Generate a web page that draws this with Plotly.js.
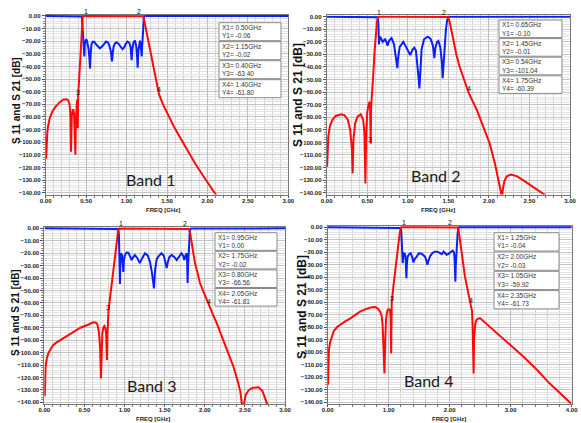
<!DOCTYPE html>
<html><head><meta charset="utf-8">
<script src="https://cdn.plot.ly/plotly-3.0.1.min.js"></script>
<style>html,body{margin:0;padding:0;background:#fff}#c{width:581px;height:423px}</style>
</head><body><div id="c"></div>
<script>
// ---------------- DATA ----------------
const bandNames = ["Band 1", "Band 2", "Band 3", "Band 4"];

// Band 1
const b1_s21_f = [0.005,0.01,0.02,0.03,0.05,0.08,0.12,0.17,0.22,0.26,0.28,0.295,0.305,0.313,0.322,0.335,0.342,0.350,0.360,0.367,0.374,0.381,0.388,0.393,0.397,0.401,0.405,0.415,0.425,0.435,0.445,0.452,0.458,0.5,0.7,0.9,1.1,1.15,1.2,1.21,1.22,1.235,1.25,1.30,1.35,1.40,1.45,1.50,1.58,1.66,1.75,1.85,1.95,2.05,2.12];
const b1_s21_db = [-113,-100,-92,-87,-81,-76,-72,-68.5,-66.2,-66,-67,-70,-78,-107.5,-80,-74.5,-74.5,-77,-90,-110,-82,-70,-66.5,-72,-89,-64,-59,-49,-36,-22,-9,-2,-0.2,-0.05,-0.04,-0.05,-0.03,-0.02,-0.2,-0.8,-4,-11,-16,-31,-47,-61.8,-70,-77,-87,-96,-106,-117,-127,-137,-143];
const b1_s11_f = [0.005,0.44,0.447,0.452,0.458,0.465,0.472,0.478,0.484,0.492,0.50,0.51,0.52,0.53,0.54,0.548,0.556,0.565,0.58,0.60,0.63,0.67,0.70,0.73,0.745,0.77,0.79,0.805,0.815,0.82,0.826,0.84,0.86,0.878,0.90,0.93,0.95,0.97,0.99,1.013,1.035,1.05,1.058,1.063,1.07,1.085,1.104,1.12,1.13,1.137,1.145,1.155,1.166,1.175,1.182,1.187,1.193,1.2,1.207,1.215,1.25,1.5,2.0,2.5,3.0];
const b1_s11_db = [-0.02,-0.05,-0.5,-5,-13,-18,-22,-32,-22,-19,-18.5,-19.5,-22,-26,-33,-41.5,-30,-23,-20.5,-20.5,-23,-25.6,-24,-21,-20.3,-21,-24,-28,-33,-36,-31,-24,-21.5,-21,-22,-25,-26.4,-25,-22,-20.3,-21.5,-25,-30,-35,-27,-21,-19.5,-24,-32,-41,-28,-21,-19.5,-23,-28,-32,-24,-12,-3,-0.3,-0.03,-0.02,-0.02,-0.02,-0.02];
const b1_markX = [0.50, 1.15, 0.40, 1.40];
const b1_markY = [-0.06, -0.02, -63.40, -61.80];

// Band 2
const b2_s21_f = [0.005,0.01,0.02,0.04,0.07,0.11,0.15,0.18,0.22,0.26,0.29,0.31,0.32,0.33,0.35,0.38,0.42,0.45,0.465,0.477,0.487,0.50,0.515,0.526,0.534,0.539,0.543,0.548,0.56,0.575,0.59,0.605,0.62,0.63,0.64,0.8,1.0,1.2,1.4,1.49,1.50,1.52,1.56,1.60,1.64,1.685,1.75,1.85,1.93,2.01,2.075,2.12,2.15,2.16,2.17,2.19,2.22,2.27,2.35,2.42,2.50,2.59,2.66,2.72];
const b2_s21_db = [-119.3,-105,-95,-87,-82,-79,-78,-77.7,-78.5,-82,-90,-105,-124.6,-98,-85,-79.5,-77.7,-82,-92,-132.6,-95,-76,-70,-68.4,-69,-78,-101,-72,-62,-45,-28,-14,-4,-0.5,-0.05,-0.05,-0.08,-0.05,-0.03,-0.05,-0.3,-5.3,-18.6,-30.5,-40,-48,-60.4,-74,-87.5,-101,-117,-130,-140,-150,-138,-131,-127,-125.5,-127,-130,-133.5,-137,-140,-143];
const b2_s11_f = [0.005,0.62,0.63,0.637,0.641,0.645,0.652,0.66,0.675,0.69,0.705,0.72,0.735,0.75,0.77,0.80,0.83,0.85,0.862,0.871,0.88,0.90,0.945,0.99,1.03,1.06,1.08,1.10,1.12,1.135,1.143,1.152,1.17,1.20,1.245,1.28,1.31,1.327,1.34,1.36,1.377,1.40,1.42,1.43,1.44,1.455,1.47,1.485,1.50,1.52,1.6,2.0,2.5,3.0];
const b2_s11_db = [-0.02,-0.05,-0.5,-5,-12,-22,-17,-16,-18,-20,-19,-18,-20,-23,-19,-17,-22,-30,-36,-41,-33,-24,-20,-25,-30.5,-26,-24.7,-27,-38,-50,-57,-42,-26,-18,-16,-17.5,-23,-33,-25,-20,-19.4,-24,-36,-49,-38,-20,-10,-3,-0.3,-0.03,-0.02,-0.02,-0.02,-0.02];
const b2_markX = [0.65, 1.45, 0.54, 1.75];
const b2_markY = [-0.10, -0.01, -101.04, -60.39];

// Band 3
const b3_s21_f = [0.005,0.017,0.03,0.05,0.08,0.11,0.15,0.2,0.28,0.36,0.45,0.53,0.58,0.61,0.64,0.66,0.68,0.695,0.706,0.715,0.723,0.735,0.748,0.76,0.77,0.776,0.781,0.787,0.793,0.80,0.818,0.84,0.86,0.88,0.90,0.912,0.922,0.935,1.1,1.3,1.5,1.7,1.79,1.80,1.815,1.836,1.857,1.878,1.91,1.94,2.0,2.05,2.10,2.15,2.20,2.25,2.30,2.356,2.418,2.445,2.46,2.475,2.49,2.51,2.55,2.60,2.67,2.72,2.77,2.80];
const b3_s21_db = [-135,-111,-105,-100.6,-97,-94,-92,-90,-86.5,-83,-80,-78,-76.5,-75.6,-75.8,-77,-83,-95,-120.7,-92,-84.5,-80,-78.6,-80,-84,-95,-106,-85,-74,-66.56,-56.5,-44,-32.5,-21,-10.5,-5,-1.3,-0.05,-0.05,-0.03,-0.05,-0.05,-0.1,-0.5,-2.7,-12,-20,-28,-36,-44,-53.6,-61.81,-69,-76.4,-84.5,-92.5,-101,-111,-124.7,-132,-140,-150,-141,-134,-130,-128.3,-127.9,-131,-140,-146];
const b3_s11_f = [0.005,0.91,0.922,0.93,0.935,0.94,0.943,0.947,0.955,0.962,0.97,0.978,0.985,0.992,1.005,1.025,1.047,1.065,1.088,1.11,1.13,1.16,1.19,1.22,1.255,1.29,1.317,1.34,1.355,1.367,1.38,1.40,1.42,1.46,1.49,1.51,1.525,1.54,1.56,1.587,1.62,1.65,1.68,1.71,1.73,1.745,1.76,1.774,1.78,1.786,1.792,1.80,1.815,1.83,1.9,2.5,3.0];
const b3_s11_db = [-0.02,-0.05,-0.5,-5,-14.7,-30,-44.8,-30,-20,-21,-21.5,-27,-35,-26,-21.5,-19.5,-19.6,-22,-25.5,-23,-21.5,-24,-28,-24,-20,-22,-27,-35,-43,-48.3,-34,-25,-22.8,-20,-22,-27,-32,-27,-23,-21.5,-23,-25.5,-23,-20,-22,-25.5,-22,-20,-26,-44,-30,-15,-1.3,-0.05,-0.02,-0.02,-0.02];
const b3_markX = [0.95, 1.75, 0.80, 2.05];
const b3_markY = [0.00, -0.02, -66.56, -61.81];

// Band 4
const b4_s21_f = [0.005,0.02,0.04,0.066,0.1,0.15,0.2,0.28,0.366,0.45,0.53,0.62,0.72,0.776,0.82,0.86,0.885,0.9,0.915,0.93,0.945,0.956,0.975,0.995,1.02,1.032,1.040,1.046,1.05,1.08,1.1,1.13,1.16,1.18,1.197,1.21,1.5,1.8,2.1,2.13,2.145,2.16,2.18,2.2,2.225,2.25,2.3,2.35,2.365,2.375,2.385,2.392,2.40,2.42,2.44,2.47,2.5,2.6,2.8,2.99,3.21,3.43,3.64,3.86,3.99];
const b4_s21_db = [-126,-98,-92,-87.5,-83,-80,-78,-75.5,-73,-70,-67.5,-65.5,-64,-63.8,-65,-67.5,-71,-78,-95,-117,-88,-74,-67,-65.6,-66,-72,-101,-68,-59.92,-46,-37,-24,-12.8,-5,-0.8,-0.05,-0.05,-0.04,-0.03,-0.1,-2,-7.5,-15,-23.5,-31,-39.5,-51.5,-61.73,-67,-78,-100,-117,-88,-77,-74,-73,-72.8,-77,-86,-94,-103.5,-114,-125,-135.5,-141];
const b4_s11_f = [0.005,1.19,1.2,1.207,1.213,1.222,1.23,1.238,1.246,1.26,1.27,1.28,1.29,1.30,1.31,1.335,1.36,1.385,1.404,1.43,1.46,1.49,1.51,1.55,1.595,1.62,1.634,1.65,1.68,1.72,1.76,1.80,1.84,1.87,1.9,1.93,1.95,1.975,1.995,2.02,2.05,2.07,2.08,2.087,2.093,2.1,2.11,2.12,2.13,2.14,2.15,2.2,3.0,4.0];
const b4_s11_db = [-0.02,-0.05,-0.5,-4,-12.8,-22,-28.8,-24,-20.8,-21,-22,-27,-40.8,-28,-23.5,-21.5,-20.8,-24,-28,-25,-23.5,-21,-20.8,-21.5,-23.5,-27,-30,-27,-23,-20.5,-19.5,-19.5,-20.8,-21.5,-19.5,-21,-22,-21.5,-20.8,-19.5,-18.7,-20,-25,-35,-43.5,-30,-18,-10,-4.8,-1,-0.05,-0.02,-0.02,-0.02];
const b4_markX = [1.25, 2.00, 1.05, 2.35];
const b4_markY = [-0.04, -0.03, -59.92, -61.73];

const xRanges = [[0, 3], [0, 3], [0, 3], [0, 4]];
const yRange = [-141.5, 1];

// ---------------- LAYOUT ----------------
const W = 581, H = 423;
const px = x => x / W;
const py = y => 1 - y / H;

const bands = [
  {s21f:b1_s21_f, s21d:b1_s21_db, s11f:b1_s11_f, s11d:b1_s11_db, mx:b1_markX, my:b1_markY},
  {s21f:b2_s21_f, s21d:b2_s21_db, s11f:b2_s11_f, s11d:b2_s11_db, mx:b2_markX, my:b2_markY},
  {s21f:b3_s21_f, s21d:b3_s21_db, s11f:b3_s11_f, s11d:b3_s11_db, mx:b3_markX, my:b3_markY},
  {s21f:b4_s21_f, s21d:b4_s21_db, s11f:b4_s11_f, s11d:b4_s11_db, mx:b4_markX, my:b4_markY}
];

const panels = [
  {xd:[45.7,288.3], yd:[14.7,194.6], xdt:0.5, xmin:0.1, box:{l:219,r:281,t:22.7,step:19,h:18}, band:{x:150,y:180}, yt:{x:16,y:101,s:10}, xt:{x:163,y:209.5}},
  {xd:[326.7,570], yd:[15.4,194.6], xdt:0.5, xmin:0.1, box:{l:499,r:562,t:20,step:18.6,h:17.6}, band:{x:435,y:176}, yt:{x:298,y:95,s:12}, xt:{x:438,y:210}},
  {xd:[44.3,285], yd:[227.1,404.2], xdt:0.5, xmin:0.1, box:{l:215,r:277,t:232.7,step:18.6,h:17.6}, band:{x:151,y:385}, yt:{x:15,y:313,s:10}, xt:{x:153,y:418.5}},
  {xd:[327.7,571.7], yd:[226,404.2], xdt:1, xmin:0.2, box:{l:494,r:559,t:232.7,step:19.3,h:18.3}, band:{x:428,y:380}, yt:{x:302,y:307,s:12}, xt:{x:449,y:418.5}}
];

const tickFont = {family:'Liberation Sans, Arial, sans-serif', size:6, color:'#222', weight:'bold'};
const layout = {
  width: W, height: H, margin:{l:0,r:0,t:0,b:0},
  paper_bgcolor:'#fff', plot_bgcolor:'#fff', showlegend:false,
  annotations: [], shapes: []
};
const data = [];

const fmt = v => v.toFixed(2);

panels.forEach((p, i) => {
  const n = i === 0 ? '' : String(i + 1);
  const xa = 'xaxis' + n, ya = 'yaxis' + n;
  const xr = 'x' + n, yr = 'y' + n;
  layout[xa] = {
    domain:[px(p.xd[0]), px(p.xd[1])], anchor:yr, range:xRanges[i],
    dtick:p.xdt, tick0:0, tickformat:'.2f', ticks:'outside', ticklen:2, tickcolor:'#555',
    ticklabelstandoff:-2,
    showgrid:true, gridcolor:'#bdbdbd', gridwidth:1, zeroline:false,
    showline:true, linecolor:'#777', linewidth:1, mirror:true,
    tickfont:tickFont,
    minor:{dtick:p.xmin, showgrid:true, gridcolor:'#d2d2d2', gridwidth:1, ticks:'outside', ticklen:2, tickcolor:'#777'}
  };
  layout[ya] = {
    domain:[py(p.yd[1]), py(p.yd[0])], anchor:xr, range:yRange,
    dtick:10, tick0:0, tickformat:'.2f', ticks:'outside', ticklen:3, tickcolor:'#555',
    showgrid:true, gridcolor:'#c4c4c4', gridwidth:1, zeroline:false,
    showline:true, linecolor:'#777', linewidth:1, mirror:true,
    tickfont:tickFont,
    minor:{dtick:2, showgrid:true, gridcolor:'#e4e4e4', gridwidth:1, ticks:'outside', ticklen:2, tickcolor:'#888'}
  };

  const b = bands[i];
  data.push({x:b.s11f, y:b.s11d, xaxis:xr, yaxis:yr, type:'scatter', mode:'lines',
    line:{color:'#0a1eff', width:2}, hoverinfo:'skip', name:'S11'});
  data.push({x:b.s21f, y:b.s21d, xaxis:xr, yaxis:yr, type:'scatter', mode:'lines',
    line:{color:'#ff0a0a', width:2}, hoverinfo:'skip', name:'S21'});

  // marker number labels on curve
  b.mx.forEach((mx, k) => {
    const top = k < 2;
    layout.annotations.push({
      x:mx, y: top ? 0 : b.my[k], xref:xr, yref:yr, text:String(k + 1), showarrow:false,
      yanchor: top ? 'bottom' : 'middle', yshift: top ? 0 : 4, borderpad:0,
      font:{family:'Liberation Sans, Arial, sans-serif', size:7, color:'#111'}
    });
  });

  // marker readout boxes
  b.mx.forEach((mx, k) => {
    const t = p.box.t + k * p.box.step;
    layout.shapes.push({type:'rect', xref:'paper', yref:'paper',
      x0:px(p.box.l), x1:px(p.box.r), y0:py(t + p.box.h), y1:py(t),
      line:{color:'#8a8a8a', width:1}, fillcolor:'#fff', layer:'above'});
    const lf = {family:'Liberation Sans, Arial, sans-serif', size:6.5, color:'#333'};
    layout.annotations.push({x:px(p.box.l + 1.5), y:py(t + 4.6), xref:'paper', yref:'paper',
      xanchor:'left', yanchor:'middle', showarrow:false, borderpad:0,
      text:'X' + (k + 1) + '= ' + fmt(mx) + 'GHz', font:lf});
    layout.annotations.push({x:px(p.box.l + 1.5), y:py(t + 13), xref:'paper', yref:'paper',
      xanchor:'left', yanchor:'middle', showarrow:false, borderpad:0,
      text:'Y' + (k + 1) + '= ' + fmt(b.my[k]), font:lf});
  });

  // band label
  layout.annotations.push({x:px(p.band.x), y:py(p.band.y), xref:'paper', yref:'paper',
    showarrow:false, text:bandNames[i], xanchor:'center', yanchor:'middle',
    font:{family:'Lato, Open Sans, sans-serif', size:16, color:'#1a1a1a'}});
  // y title
  layout.annotations.push({x:px(p.yt.x), y:py(p.yt.y), xref:'paper', yref:'paper',
    showarrow:false, text:'S 11 and S 21 [dB]', textangle:-90, xanchor:'center', yanchor:'middle',
    font:{family:'Liberation Sans, Arial, sans-serif', size:p.yt.s, color:'#111', weight:'bold'}});
  // x title
  layout.annotations.push({x:px(p.xt.x), y:py(p.xt.y), xref:'paper', yref:'paper',
    showarrow:false, text:'FREQ [GHz]', xanchor:'center', yanchor:'middle', borderpad:0,
    font:{family:'Liberation Sans, Arial, sans-serif', size:6, color:'#222', weight:'bold'}});
});

Plotly.newPlot('c', data, layout, {staticPlot:true, displayModeBar:false});
</script>
</body></html>
